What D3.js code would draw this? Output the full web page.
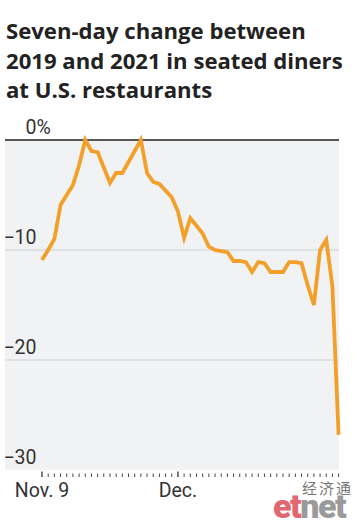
<!DOCTYPE html>
<html><head><meta charset="utf-8">
<script src="https://cdn.jsdelivr.net/npm/d3@7/dist/d3.min.js"></script>
<style>body{margin:0;background:#fff}svg{display:block}</style>
</head><body>
<svg id="c" width="360" height="523"></svg>
<script>
const titleLines = ["Seven-day change between","2019 and 2021 in seated diners","at U.S. restaurants"];
const startDate = "2021-11-09";
const values = [-10.9,-10.0,-9.0,-5.9,-5.0,-4.1,-2.3,0.0,-1.0,-1.1,
  -2.5,-3.9,-3.0,-3.0,-2.0,-1.0,0.0,-3.0,-3.8,-4.0,
  -4.6,-5.2,-6.5,-8.9,-7.1,-7.8,-8.5,-9.7,-10.0,-10.1,
  -10.2,-11.0,-11.0,-11.1,-12.0,-11.1,-11.2,-12.0,-12.0,-12.0,
  -11.1,-11.1,-11.2,-13.2,-15.0,-10.0,-9.1,-13.3,-26.8];
const yTicks = [0,-10,-20,-30];
const yTickLabels = ["0%","-10","-20","-30"];
const xLabelDates = ["2021-11-09","2021-12-01"];
const xLabels = ["Nov. 9","Dec."];

const parse = d3.timeParse("%Y-%m-%d");
const d0 = parse(startDate);
const data = values.map((v,i)=>({date:d3.timeDay.offset(d0,i), v}));
const svg = d3.select("#c");

const plotL=5, plotR=339, plotT=140, plotB=470;
const x = d3.scaleTime().domain([d0, data[data.length-1].date]).range([42, 338.6]);
const y = d3.scaleLinear().domain([0,-30]).range([plotT, plotB]);

// title
const tt = svg.append("text").attr("font-family","Open Sans").attr("font-weight",700)
  .attr("font-size",21).attr("fill","#222");
const spans = titleLines.map((t,i)=>tt.append("tspan").attr("x",6).attr("y",39+i*29.5).text(t));
const w2 = spans[1].node().getComputedTextLength();
tt.attr("font-size",21*337/w2);

// background
svg.append("rect").attr("x",plotL).attr("y",plotT).attr("width",plotR-plotL).attr("height",plotB-plotT).attr("fill","#f1f2f4");

// grid
yTicks.forEach(t=>{
  if(t===0 || t===-30) return;
  svg.append("line").attr("x1",plotL).attr("x2",plotR).attr("y1",y(t)).attr("y2",y(t))
    .attr("stroke","#cfd0d2").attr("stroke-width",1.2);
});
svg.append("line").attr("x1",plotL).attr("x2",plotR).attr("y1",y(0)).attr("y2",y(0))
  .attr("stroke","#222").attr("stroke-width",1.5);

// y labels
yTicks.forEach((t,i)=>{
  const lbl = yTickLabels[i];
  const num = lbl.replace("%","");
  svg.append("text").attr("font-family","Roboto").attr("font-size",19.5).attr("fill","#333")
    .attr("x",36.5).attr("y",y(t)-6).attr("text-anchor","end").text(num.replace("-","\u2212"));
  if(lbl.includes("%")){
    svg.append("text").attr("font-family","Roboto").attr("font-size",19.5).attr("fill","#333")
      .attr("x",36.5).attr("y",y(t)-6).text("%");
  }
});

// x ticks
const days = d3.timeDay.range(d0, d3.timeDay.offset(data[data.length-1].date,1));
const majors = xLabelDates.map(d=>+parse(d));
days.forEach(d=>{
  const major = majors.includes(+d);
  svg.append("line").attr("x1",x(d)).attr("x2",x(d))
    .attr("y1",major?471.5:473.5).attr("y2",477)
    .attr("stroke","#333").attr("stroke-width",major?1.3:0.9);
});
xLabelDates.forEach((d,i)=>{
  svg.append("text").attr("font-family","Roboto").attr("font-size",19.5).attr("fill","#333")
    .attr("x",x(parse(d))).attr("y",497).attr("text-anchor","middle").text(xLabels[i]);
});

// line
const line = d3.line().x(d=>x(d.date)).y(d=>y(d.v));
svg.append("path").datum(data).attr("d",line).attr("fill","none")
  .attr("stroke","#f2a02a").attr("stroke-width",3.8).attr("stroke-linejoin","miter");

// watermark
svg.append("text").attr("x",353).attr("y",494).attr("text-anchor","end")
  .attr("font-family","Noto Sans CJK SC").attr("font-size",15).attr("letter-spacing",2).attr("fill","#777").text("经济通");
const w = svg.append("text").attr("x",273).attr("y",518).attr("font-family","Roboto")
  .attr("font-weight",900).attr("font-size",34).attr("letter-spacing",-1.5);
w.append("tspan").attr("fill","#e06670").text("et");
w.append("tspan").attr("fill","#9a9a9a").text("net");
</script>
</body></html>
